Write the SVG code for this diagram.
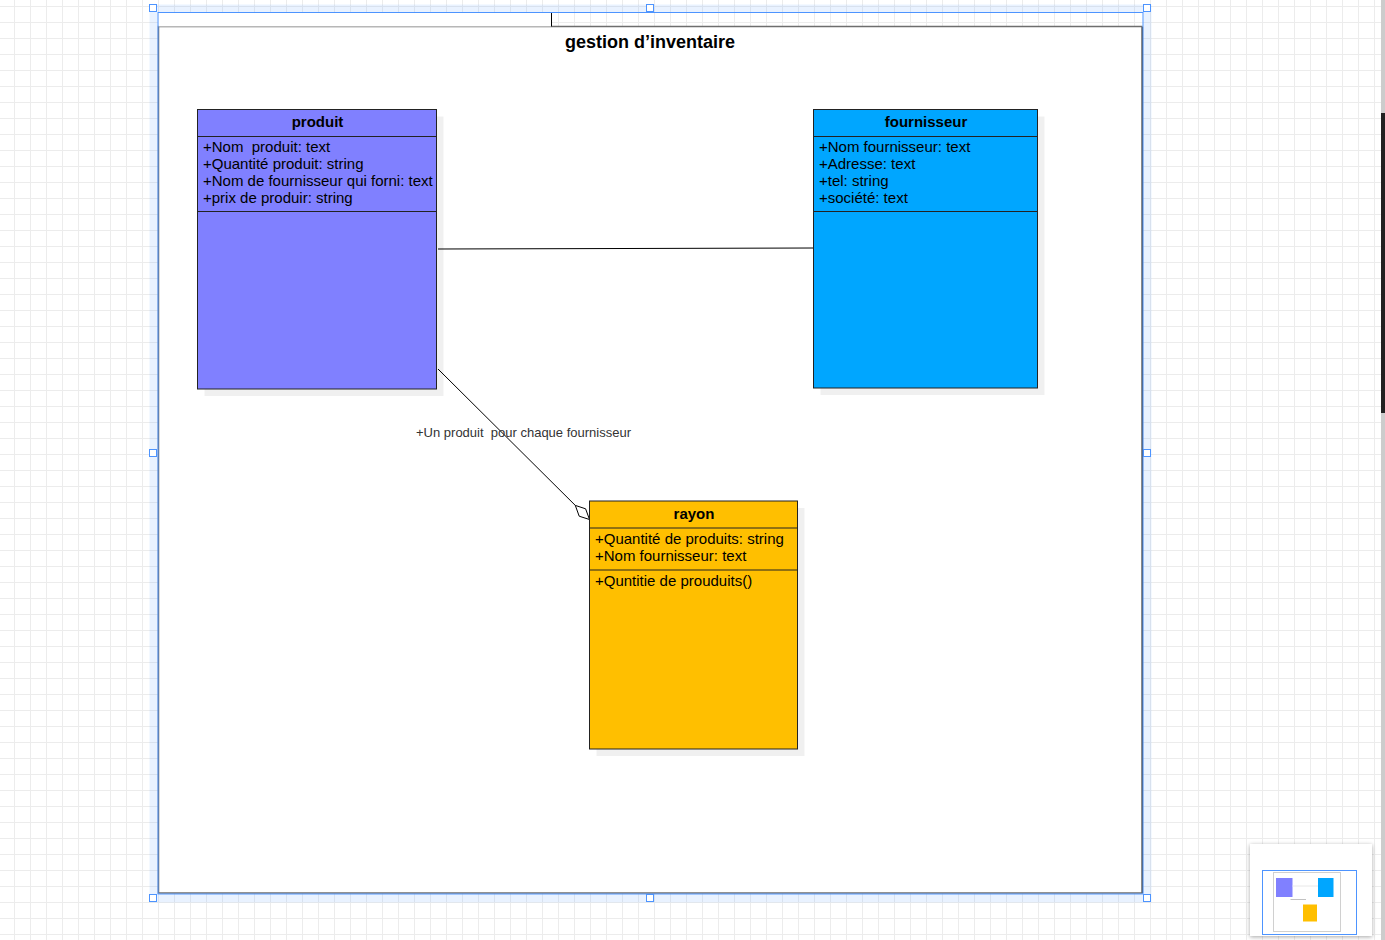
<svg xmlns="http://www.w3.org/2000/svg" width="1385" height="940" viewBox="0 0 1385 940">
<defs>
<pattern id="grid" patternUnits="userSpaceOnUse" x="14" y="6" width="16" height="16">
<path d="M0.5 0V16M0 0.5H16" stroke="#ececec" stroke-width="1" fill="none"/>
</pattern>
<filter id="mmshadow" x="-20%" y="-20%" width="140%" height="140%">
<feGaussianBlur in="SourceAlpha" stdDeviation="2"/>
<feOffset dx="0" dy="1"/>
<feComponentTransfer><feFuncA type="linear" slope="0.35"/></feComponentTransfer>
<feMerge><feMergeNode/><feMergeNode in="SourceGraphic"/></feMerge>
</filter>
</defs>
<style>
text{font-family:"Liberation Sans",Arial,Helvetica,sans-serif;fill:#000}
.cls{stroke:#222;stroke-width:1}
.sep{stroke:#222;stroke-width:1;fill:none}
.shadow{fill:#000;fill-opacity:0.06}
.name{font-size:15px;font-weight:bold;text-anchor:middle}
.attr{font-size:15px}
.edge{stroke:#000;stroke-width:1;fill:none}
.handle{fill:#fff;stroke:#4d94ff;stroke-width:1}
.lbl{font-size:13px;fill:#333}
</style>
<rect x="0" y="0" width="1385" height="940" fill="#fff"/>
<rect x="0" y="0" width="1385" height="940" fill="url(#grid)"/>

<g id="container">
<rect x="153.5" y="8.5" width="994" height="890" fill="none" stroke="#4d94ff" stroke-opacity="0.12" stroke-width="8"/>
<rect x="158.5" y="26.5" width="983.5" height="866.5" fill="#fff" stroke="#6e6e6e" stroke-width="1.5"/>
<line x1="1142.5" y1="27" x2="1142.5" y2="893" stroke="#444" stroke-width="1.2"/>
<rect x="158.5" y="12.5" width="393" height="14" fill="#fff" stroke="none"/>
<line x1="551.5" y1="12.5" x2="551.5" y2="26.5" stroke="#000" stroke-width="1"/>
<text x="650" y="48" font-size="18" font-weight="bold" text-anchor="middle">gestion d’inventaire</text>
</g>

<g id="connectors">
<line class="edge" x1="438" y1="249" x2="814" y2="248"/>
<line class="edge" x1="438" y1="369" x2="575.3" y2="505.4"/>
<polygon points="589.5,519.5 585.6,508.8 575.3,505.4 579.2,516.2" fill="#fff" stroke="#000" stroke-width="1"/>
<text class="lbl" x="416" y="437" xml:space="preserve">+Un produit  pour chaque fournisseur</text>
</g>

<g id="produit">
<rect class="shadow" x="204.5" y="116.5" width="239" height="279.5"/>
<rect class="cls" x="197.5" y="109.5" width="239" height="279.5" fill="#8080ff"/>
<line class="sep" x1="197.5" y1="136.5" x2="436.5" y2="136.5"/>
<line class="sep" x1="197.5" y1="211.5" x2="436.5" y2="211.5"/>
<text class="name" x="317.5" y="127">produit</text>
<text class="attr" x="203" y="152" xml:space="preserve">+Nom  produit: text</text>
<text class="attr" x="203" y="169">+Quantité produit: string</text>
<text class="attr" x="203" y="186">+Nom de fournisseur qui forni: text</text>
<text class="attr" x="203" y="203">+prix de produir: string</text>
</g>

<g id="fournisseur">
<rect class="shadow" x="820.5" y="116.5" width="224" height="278.5"/>
<rect class="cls" x="813.5" y="109.5" width="224" height="278.5" fill="#00a6ff"/>
<line class="sep" x1="813.5" y1="136.5" x2="1037.5" y2="136.5"/>
<line class="sep" x1="813.5" y1="211.5" x2="1037.5" y2="211.5"/>
<text class="name" x="926" y="127">fournisseur</text>
<text class="attr" x="819" y="152">+Nom fournisseur: text</text>
<text class="attr" x="819" y="169">+Adresse: text</text>
<text class="attr" x="819" y="186">+tel: string</text>
<text class="attr" x="819" y="203">+société: text</text>
</g>

<g id="rayon">
<rect class="shadow" x="596.5" y="508" width="208" height="248"/>
<rect class="cls" x="589.5" y="501" width="208" height="248" fill="#ffbf00"/>
<line class="sep" x1="589.5" y1="528" x2="797.5" y2="528"/>
<line class="sep" x1="589.5" y1="570" x2="797.5" y2="570"/>
<text class="name" x="694" y="519">rayon</text>
<text class="attr" x="595" y="543.5">+Quantité de produits: string</text>
<text class="attr" x="595" y="560.5">+Nom fournisseur: text</text>
<text class="attr" x="595" y="586">+Quntitie de prouduits()</text>
</g>

<g id="selection">
<rect x="158" y="12.5" width="985" height="881.5" fill="none" stroke="#4d94ff" stroke-width="1"/>
<rect class="handle" x="149.5" y="4.5" width="7" height="7"/>
<rect class="handle" x="646.5" y="4.5" width="7" height="7"/>
<rect class="handle" x="1143.5" y="4.5" width="7" height="7"/>
<rect class="handle" x="149.5" y="449.5" width="7" height="7"/>
<rect class="handle" x="1143.5" y="449.5" width="7" height="7"/>
<rect class="handle" x="149.5" y="894.5" width="7" height="7"/>
<rect class="handle" x="646.5" y="894.5" width="7" height="7"/>
<rect class="handle" x="1143.5" y="894.5" width="7" height="7"/>
</g>

<g id="scrollbar">
<rect x="1381" y="0" width="4" height="940" fill="#cccccc"/>
<rect x="1381" y="113" width="4" height="300" fill="#222"/>
</g>

<g id="minimap">
<rect x="1250" y="844" width="122" height="92" fill="#fff" filter="url(#mmshadow)"/>
<rect x="1273.5" y="872.5" width="67" height="59" fill="#fff" stroke="#d0d0d0" stroke-width="1"/>
<rect x="1276" y="878" width="16.5" height="19" fill="#8080ff"/>
<rect x="1318" y="878" width="15.5" height="19" fill="#00a6ff"/>
<rect x="1303" y="904.5" width="14" height="17" fill="#ffbf00"/>
<line x1="1292.5" y1="886" x2="1318" y2="886" stroke="#e8e8e8" stroke-width="1"/>
<line x1="1290.5" y1="899.5" x2="1306" y2="899.5" stroke="#999" stroke-width="0.6"/>
<rect x="1262.5" y="870.5" width="94" height="64" fill="none" stroke="#4d94ff" stroke-width="1"/>
</g>
</svg>
